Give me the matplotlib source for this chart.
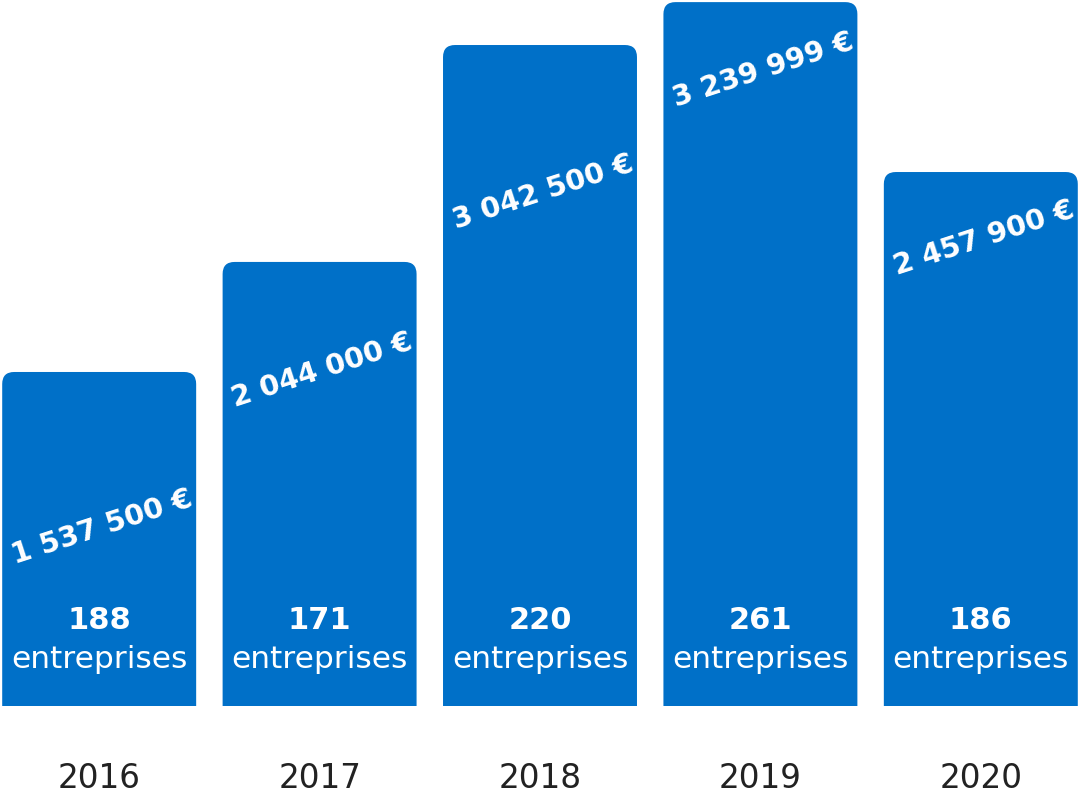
import matplotlib
matplotlib.use("Agg")
import matplotlib.pyplot as plt
from matplotlib.patches import FancyBboxPatch
import numpy as np

YEARS = ["2016", "2017", "2018", "2019", "2020"]
AMOUNTS = [1537500, 2044000, 3042500, 3239999, 2457900]
AMOUNT_LABELS = ["1 537 500 €", "2 044 000 €", "3 042 500 €", "3 239 999 €", "2 457 900 €"]
COMPANIES = [188, 171, 220, 261, 186]

# how far below each bar top the rotated amount sits (points)
LABEL_DROP = [112, 78, 106, 49, 48]

BLUE = "#0070C8"
DPI = 100
W, H = 10.8, 8.0


def main() -> None:
    plt.rcParams["font.family"] = ["DejaVu Sans"]
    fig = plt.figure(figsize=(W, H), dpi=DPI)
    ax_rect = [0.0, 94 / 800, 1.0, 706 / 800]
    ax = fig.add_axes(ax_rect)
    ax.axis("off")

    x = np.arange(len(YEARS))
    width = 0.88
    xlim = (-0.45, len(YEARS) - 0.55)
    ylim = (0, max(AMOUNTS) * 1.003)
    ax.set_xlim(*xlim)
    ax.set_ylim(*ylim)

    px_x = W * DPI * ax_rect[2] / (xlim[1] - xlim[0])
    px_y = H * DPI * ax_rect[3] / (ylim[1] - ylim[0])
    radius_px = 12
    r = radius_px / px_x
    aspect = px_x / px_y
    below = 3 * r * aspect  # start under the axis so the bottom corners get clipped square

    for xi, h in zip(x, AMOUNTS):
        ax.add_patch(FancyBboxPatch(
            (xi - width / 2, -below), width, h + below,
            boxstyle=f"round,pad=0,rounding_size={r}",
            mutation_aspect=aspect, facecolor=BLUE, linewidth=0,
        ))

    for xi, h, lab, n, drop, yr in zip(x, AMOUNTS, AMOUNT_LABELS, COMPANIES, LABEL_DROP, YEARS):
        ax.annotate(lab, (xi, h), xytext=(2, -drop), textcoords="offset points",
                    ha="center", va="center", rotation=18, rotation_mode="anchor",
                    color="white", fontsize=20.5, fontweight="bold")
        ax.annotate(str(n), (xi, 0), xytext=(0, 61.5), textcoords="offset points",
                    ha="center", va="center", color="white", fontsize=22, fontweight="bold")
        ax.annotate("entreprises", (xi, 0), xytext=(0, 33.5), textcoords="offset points",
                    ha="center", va="center", color="white", fontsize=22.5)
        ax.annotate(yr, (xi, 0), xytext=(0, -52.5), textcoords="offset points",
                    ha="center", va="center", color="#222222", fontsize=23.5,
                    annotation_clip=False)

    fig.savefig("out.png", dpi=DPI, facecolor="white")


if __name__ == "__main__":
    main()
